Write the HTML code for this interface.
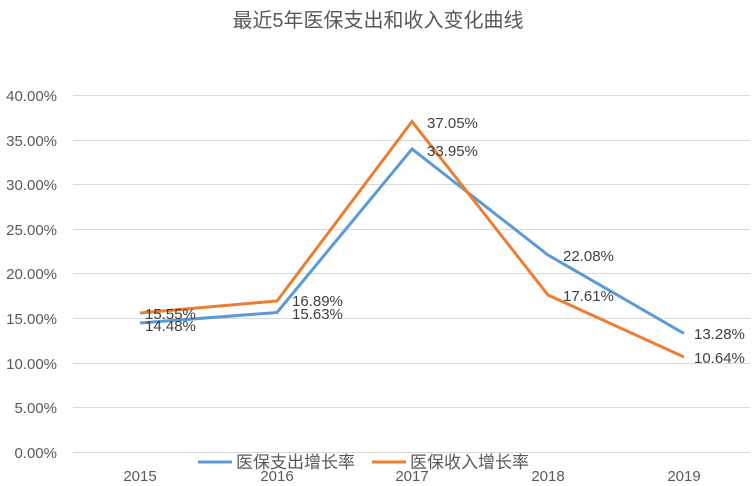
<!DOCTYPE html>
<html><head><meta charset="utf-8"><style>
html,body{margin:0;padding:0;background:#fff;}
svg{display:block;font-family:"Liberation Sans","Noto Sans CJK SC",sans-serif;}
</style></head><body>
<svg width="756" height="486" viewBox="0 0 756 486">
<text x="378" y="27" font-size="20" fill="#595959" text-anchor="middle">最近5年医保支出和收入变化曲线</text>
<g stroke="#d9d9d9" stroke-width="1">
<line x1="73" x2="750" y1="95.5" y2="95.5"/>
<line x1="73" x2="750" y1="140.5" y2="140.5"/>
<line x1="73" x2="750" y1="184.5" y2="184.5"/>
<line x1="73" x2="750" y1="229.5" y2="229.5"/>
<line x1="73" x2="750" y1="273.5" y2="273.5"/>
<line x1="73" x2="750" y1="318.5" y2="318.5"/>
<line x1="73" x2="750" y1="363.5" y2="363.5"/>
<line x1="73" x2="750" y1="407.5" y2="407.5"/>
<line x1="73" x2="750" y1="452.5" y2="452.5"/>
</g>
<g font-size="15" fill="#595959" text-anchor="end">
<text x="57" y="101">40.00%</text>
<text x="57" y="146">35.00%</text>
<text x="57" y="190">30.00%</text>
<text x="57" y="235">25.00%</text>
<text x="57" y="279">20.00%</text>
<text x="57" y="324">15.00%</text>
<text x="57" y="369">10.00%</text>
<text x="57" y="413">5.00%</text>
<text x="57" y="458">0.00%</text>
</g>
<g font-size="15" fill="#595959" text-anchor="middle">
<text x="140" y="481">2015</text>
<text x="277" y="481">2016</text>
<text x="412" y="481">2017</text>
<text x="548" y="481">2018</text>
<text x="684" y="481">2019</text>
</g>
<polyline fill="none" stroke="#5b9bd5" stroke-width="3" points="140,323 277,312.5 412,149 548,255 684,333.5"/>
<polyline fill="none" stroke="#ed7d31" stroke-width="3" points="140,313 277,301 412,121.5 548,295 684,357"/>
<g font-size="15" fill="#404040">
<text x="145" y="319">15.55%</text>
<text x="145" y="331">14.48%</text>
<text x="292" y="306">16.89%</text>
<text x="292" y="319">15.63%</text>
<text x="427" y="128">37.05%</text>
<text x="427" y="156">33.95%</text>
<text x="563" y="261">22.08%</text>
<text x="563" y="301">17.61%</text>
<text x="694" y="339">13.28%</text>
<text x="694" y="363">10.64%</text>
</g>
<line x1="198" x2="232" y1="462" y2="462" stroke="#5b9bd5" stroke-width="3"/>
<text x="236" y="468" font-size="17" fill="#595959">医保支出增长率</text>
<line x1="372" x2="406" y1="462" y2="462" stroke="#ed7d31" stroke-width="3"/>
<text x="410" y="468" font-size="17" fill="#595959">医保收入增长率</text>
</svg>
</body></html>
